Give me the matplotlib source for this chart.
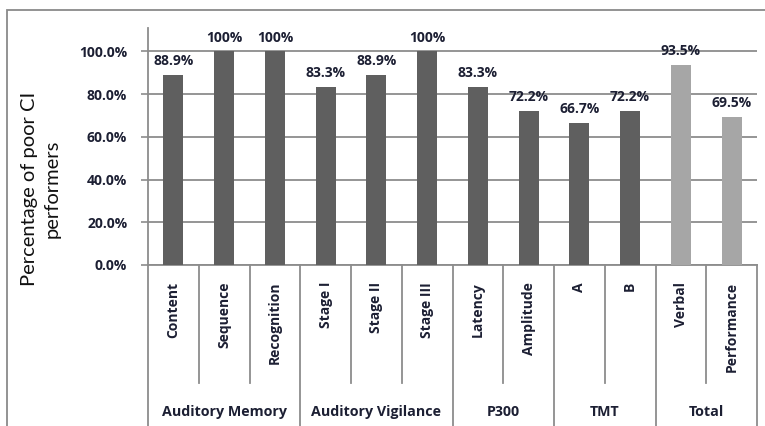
import numpy as np
import matplotlib.pyplot as plt
import matplotlib.transforms as mtransforms
from matplotlib.patches import Rectangle

#Data
categories = ['Content', 'Sequence', 'Recognition', 'Stage I', 'Stage II', 'Stage III',
              'Latency', 'Amplitude', 'A', 'B', 'Verbal', 'Performance']
values = [88.9, 100, 100, 83.3, 88.9, 100, 83.3, 72.2, 66.7, 72.2, 93.5, 69.5]
value_labels = ['88.9%', '100%', '100%', '83.3%', '88.9%', '100%',
                '83.3%', '72.2%', '66.7%', '72.2%', '93.5%', '69.5%']
groups = ['Auditory Memory', 'Auditory Vigilance', 'P300', 'TMT', 'Total']
group_sizes = [3, 3, 2, 2, 2]
yticks = [0, 20, 40, 60, 80, 100]

plt.rcParams['font.family'] = ['Open Sans', 'DejaVu Sans']

dark = '#5f5f5f'
light = '#a6a6a6'
grid_c = '#8c8c8c'
text_c = '#1c1f33'

bar_colors = [light if g == 'Total' else dark
              for g, n in zip(groups, group_sizes) for _ in range(n)]

W, H = 765, 426
fig = plt.figure(figsize=(W/100, H/100), dpi=100)

#Outer frame
fig.add_artist(Rectangle((7/W, -0.1), 1.2, 1 - 10/H + 0.1, transform=fig.transFigure,
                         fill=False, edgecolor='#8a8a8a', lw=1.3))

ax = fig.add_axes([148/W, 1 - 265/H, 609/W, 237/H])
x = np.arange(len(categories))
bars = ax.bar(x, values, width=0.39, color=bar_colors, zorder=3)
ax.bar_label(bars, labels=value_labels, padding=5, fontsize=10, fontweight='bold',
             color=text_c)

ax.set_xlim(-0.5, len(categories) - 0.5)
ax.set_ylim(0, 111)
ax.set_yticks(yticks)
ax.set_yticklabels([f'{t:.1f}%' for t in yticks], fontsize=10, fontweight='bold', color=text_c)
ax.set_xticks([])
ax.yaxis.grid(True, color=grid_c, lw=1.3)
ax.set_axisbelow(True)
ax.tick_params(axis='y', length=5, color=grid_c, width=1.2, pad=10)
for s in ['top', 'right']:
    ax.spines[s].set_visible(False)
for s in ['left', 'bottom']:
    ax.spines[s].set_color(grid_c)
    ax.spines[s].set_linewidth(1.3)

#Category axis: labels and separators
trans = mtransforms.blended_transform_factory(ax.transData, ax.transAxes)
px = 1/237.
for i, c in enumerate(categories):
    ax.text(i, -17*px, c, rotation=90, ha='center', va='top', fontsize=10,
            fontweight='bold', color=text_c, transform=trans)

edges = np.concatenate([[0], np.cumsum(group_sizes)]) - 0.5
for k in range(len(categories) + 1):
    xe = k - 0.5
    bottom = -0.75 if xe in edges else -118*px
    ax.plot([xe, xe], [0, bottom], color=grid_c, lw=1.3, transform=trans, clip_on=False)

for g, a, b in zip(groups, edges[:-1], edges[1:]):
    ax.text((a + b)/2, -147*px, g, ha='center', va='center', fontsize=10.3,
            fontweight='bold', color=text_c, transform=trans)

fig.text(41/W, 1 - 189/H, 'Percentage of poor CI\nperformers', rotation=90,
         ha='center', va='center', fontsize=14.5, family=['Lato', 'DejaVu Sans'],
         color='#111111', linespacing=1.4)

plt.savefig('out.png', dpi=100)
